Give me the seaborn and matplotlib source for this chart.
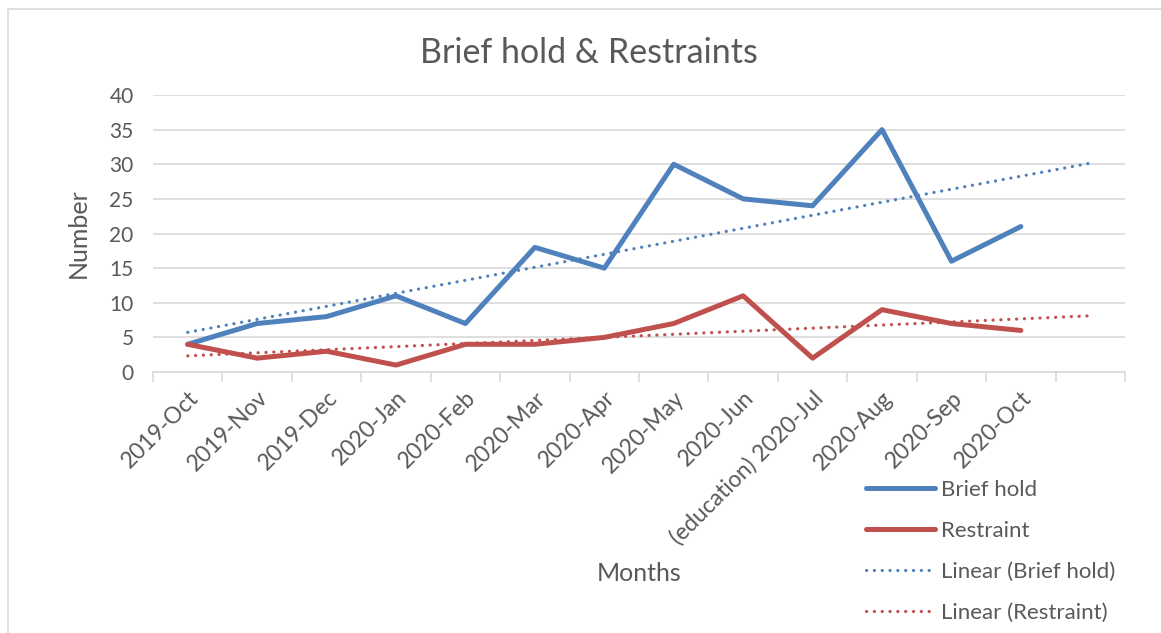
import numpy as np
import pandas as pd
import matplotlib
matplotlib.use("Agg")
import matplotlib.pyplot as plt
import seaborn as sns
from matplotlib.patches import Rectangle

months = ["2019-Oct", "2019-Nov", "2019-Dec", "2020-Jan", "2020-Feb", "2020-Mar",
          "2020-Apr", "2020-May", "2020-Jun", "(education) 2020-Jul", "2020-Aug",
          "2020-Sep", "2020-Oct"]
brief_hold = [4, 7, 8, 11, 7, 18, 15, 30, 25, 24, 35, 16, 21]
restraint = [4, 2, 3, 1, 4, 4, 5, 7, 11, 2, 9, 7, 6]
n_slots = 14  # one empty category slot at the end (trendline forecast)

sns.set_theme(style="white")
plt.rcParams['font.family'] = ['Lato', 'DejaVu Sans']
TXT = "#595959"
BLUE = "#4f81bd"
RED = "#c0504d"
GRID = "#d9d9d9"

fig = plt.figure(figsize=(11.61, 6.33), dpi=100)
ax = fig.add_axes([153/1161, 1-372/633, (1125-153)/1161, (372-95)/633])

pos = np.arange(len(months)) + 0.5
df = pd.DataFrame({"x": pos, "Brief hold": brief_hold, "Restraint": restraint})

# trendlines (linear fit over the observed months, extended one period)
idx = np.arange(1, len(months) + 1)
tx = np.arange(1, n_slots + 1)
tpos = tx - 0.5
cb = np.polyfit(idx, brief_hold, 1)
cr = np.polyfit(idx, restraint, 1)
tdf = pd.DataFrame({"x": tpos, "tb": np.polyval(cb, tx), "tr": np.polyval(cr, tx)})

sns.lineplot(data=df, x="x", y="Brief hold", ax=ax, color=BLUE, lw=3.6,
             label="Brief hold", solid_capstyle="round", zorder=4)
sns.lineplot(data=df, x="x", y="Restraint", ax=ax, color=RED, lw=3.6,
             label="Restraint", solid_capstyle="round", zorder=4)
sns.lineplot(data=tdf, x="x", y="tb", ax=ax, color=BLUE, lw=2.3,
             label="Linear (Brief hold)", zorder=3)
sns.lineplot(data=tdf, x="x", y="tr", ax=ax, color=RED, lw=2.3,
             label="Linear (Restraint)", zorder=3)
for ln in ax.lines[2:4]:
    ln.set_linestyle((0, (0.05, 2.4)))
    ln.set_dash_capstyle("round")

ax.set_xlim(0, n_slots)
ax.set_ylim(0, 40)
ax.set_yticks(np.arange(0, 41, 5))
ax.yaxis.grid(True, color=GRID, lw=1.2)
ax.set_axisbelow(True)
for s in ["top", "right", "left"]:
    ax.spines[s].set_visible(False)
ax.spines["bottom"].set_color(GRID)
ax.spines["bottom"].set_linewidth(1.2)

ax.set_xticks(np.arange(0, n_slots + 1), minor=False)
ax.set_xticklabels([])
ax.tick_params(axis="x", which="major", length=7, width=1.2, color=GRID, direction="out", bottom=True)
ax.set_xticks(pos, minor=True)
ax.set_xticklabels(months, minor=True, rotation=45, ha="right", va="top",
                   rotation_mode="anchor", fontsize=16.5, color=TXT)
ax.tick_params(axis="x", which="minor", length=0, pad=11)
ax.tick_params(axis="y", length=0, labelsize=15, labelcolor=TXT, pad=14)

ax.set_xlabel("Months", fontsize=18, color=TXT)
ax.xaxis.set_label_coords(0.5, (372-573)/277 + 0.04)
ax.set_ylabel("Number", fontsize=18, color=TXT)
ax.yaxis.set_label_coords((85-153)/972 + 0.005, 0.5)

fig.text(589/1161, 1-53/633, "Brief hold & Restraints", fontsize=24.5,
         color=TXT, ha="center", va="center")

ax.get_legend().remove()
h, l = ax.get_legend_handles_labels()
fig.legend(h, l, loc="upper left", bbox_to_anchor=(857/1161, 1-471/633),
           frameon=False, fontsize=16, labelcolor=TXT, handlelength=3.13,
           handletextpad=0.25, labelspacing=0.95, borderaxespad=0)

fig.patches.append(Rectangle((8/1161, -0.1), 1.2, 1-9/633+0.1, transform=fig.transFigure,
                             fill=False, edgecolor=GRID, lw=1.2, figure=fig))

fig.savefig("out.png", dpi=100)
